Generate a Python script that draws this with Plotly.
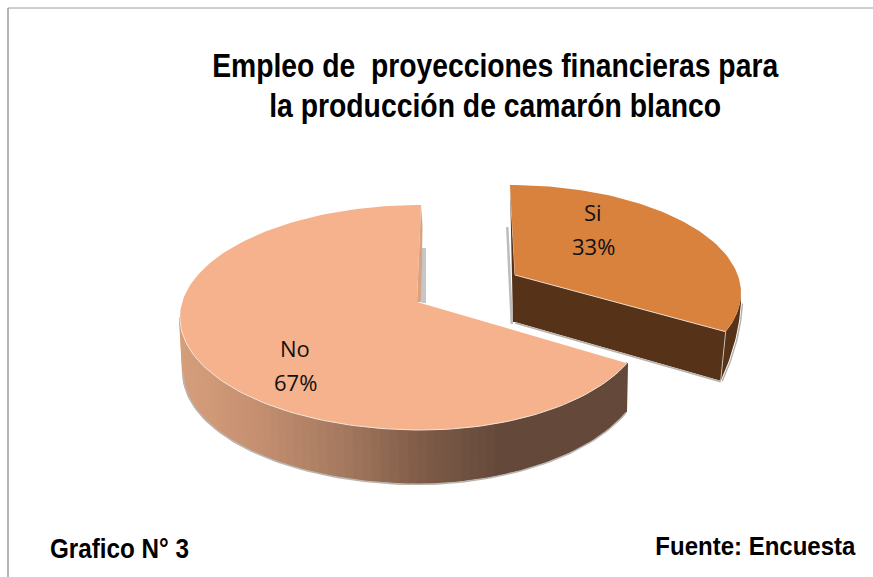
import json
import numpy as np
import plotly.graph_objects as go

# --- data ---
categories = ["Si", "No"]
values = [33, 67]
top_colors = ["#D8823E", "#F5B28C"]
title_lines = ["Empleo de  proyecciones financieras para", "la producción de camarón blanco"]
footer_left = "Grafico N° 3"
footer_right = "Fuente: Encuesta"

W, H = 873, 577
fig = go.Figure()


def poly(xs, ys, fill, line=None, width=0.0):
    fig.add_trace(go.Scatter(
        x=list(xs), y=list(ys), mode="lines", fill="toself", fillcolor=fill,
        line=dict(color=line or fill, width=width), hoverinfo="skip", showlegend=False))


def path(xs, ys, color, width):
    fig.add_trace(go.Scatter(
        x=list(xs), y=list(ys), mode="lines", line=dict(color=color, width=width),
        hoverinfo="skip", showlegend=False))


def warp(theta, k):
    # foreshortening of the 3D view
    return theta - k * np.sin(np.radians(theta))


def arc(phi, g):
    r = np.radians(phi)
    s, c = np.sin(r), np.cos(r)
    rx = np.where(s >= 0, g["rxr"], g["rxl"])
    return g["cx"] + rx * s, g["cy"] - g["ry"] * c


si_angle = 360 * values[0] / sum(values)

# geometry of the two projected slices
g_si = dict(cx=510, cy=293, rxr=231, rxl=231, ry=108, ax=515, ay=275, k=8.9, depth=47)
g_no = dict(cx=421, cy=317.5, rxr=225.5, rxl=241, ry=112.5, ax=417, ay=302, k=5.5)

# ---------- No slice ----------
phi_no_end = warp(si_angle, g_no["k"])
# gray shadow + back wall
poly([422, 426, 426, 421.5], [248, 248, 303, 303], "#C4C6C8")
poly([421, 417, 421.5, 422.5], [205, 302, 302, 225], "#D9A37F")


def no_depth(phi):
    return np.where(phi >= 180, 53, 53 - 5 * (180 - phi) / (180 - phi_no_end))


# side with gradient
stops_x = [180, 260, 340, 420, 500, 630]
stops_c = np.array([[214, 158, 124], [196, 143, 112], [165, 122, 96], [128, 92, 72], [100, 73, 58], [100, 73, 58]])
edges = np.linspace(270, phi_no_end, 71)
for a, b in zip(edges[:-1], edges[1:]):
    ph = np.linspace(a, b, 4)
    tx, ty = arc(ph, g_no)
    d = no_depth(ph)
    bx = tx + 3 - 4 * (270 - ph) / (270 - phi_no_end)
    by = ty + d
    mx = tx.mean()
    col = [int(round(np.interp(mx, stops_x, stops_c[:, i]))) for i in range(3)]
    c = f"rgb({col[0]},{col[1]},{col[2]})"
    poly(np.r_[tx, bx[::-1]], np.r_[ty, by[::-1]], c, c, 2)

# shadow under the side
ph = np.linspace(270, phi_no_end, 120)
tx, ty = arc(ph, g_no)
path(tx + 3 - 4 * (270 - ph) / (270 - phi_no_end), ty + no_depth(ph) + 1.5, "#B9B5B0", 1.6)

# top
ph = np.linspace(phi_no_end, 360, 160)
tx, ty = arc(ph, g_no)
poly(np.r_[g_no["ax"], tx, g_no["ax"]], np.r_[g_no["ay"], ty, g_no["ay"]], top_colors[1])
ph = np.linspace(phi_no_end, 270, 100)
tx, ty = arc(ph, g_no)
path(tx, ty, "#F6E6DA", 1)

# ---------- Si slice ----------
phi_si = warp(si_angle, g_si["k"])
sx, sy = arc(np.array([0.0]), g_si)
ex, ey = arc(np.array([phi_si]), g_si)
ax, ay, dp = g_si["ax"], g_si["ay"], g_si["depth"]
brown = "#563318"
# shadow, back wall
poly([506, 508.5, 513, 513, 510.5], [227, 227, 322, 324, 324], "#BDBDBD")
poly([sx[0], ax, ax, ax - 2], [sy[0], ay, ay + dp, ay + dp], brown)
path([sx[0], ax], [sy[0], ay], "#EADFD4", 0.8)
# cut wall
poly([ax, ex[0], ex[0] - 5, ax], [ay, ey[0], ey[0] + dp + 2, ay + dp], brown)
path([ax, ex[0] - 5], [ay + dp + 1, ey[0] + dp + 3], "#B5B1AC", 1.4)
# outer side
ph = np.linspace(90, phi_si, 30)
tx, ty = arc(ph, g_si)
t = (ph - 90) / (phi_si - 90)
bx = tx - 5 * t
by = ty + 10 + 39 * t
poly(np.r_[tx, bx[::-1]], np.r_[ty, by[::-1]], brown)
path(bx + 1.5, by + 0.5, "#B5B1AC", 1.4)
path([ex[0], ex[0] - 5], [ey[0], ey[0] + 49], "#D9D3CC", 0.8)
# top
ph = np.linspace(0, phi_si, 80)
tx, ty = arc(ph, g_si)
poly(np.r_[ax, tx, ax], np.r_[ay, ty, ay], top_colors[0])
path(np.r_[ax, ex[0]], np.r_[ay, ey[0]], "#EADFD4", 0.9)

# ---------- labels ----------
label_xy = {"Si": (593, 212, 246), "No": (295, 348, 382)}
total = sum(values)
for name, v in zip(categories, values):
    lx, ly1, ly2 = label_xy[name]
    for txt, ly in ((name, ly1), (f"{round(100 * v / total)}%", ly2)):
        fig.add_annotation(x=lx, y=ly, xref="x", yref="y", text=txt, showarrow=False,
                           font=dict(family="Open Sans", size=22, color="#111111"))

TF = "Liberation Sans"
bold_texts = [(title_lines[0], 495, 65, 33, 566), (title_lines[1], 495, 105, 33, 452),
              (footer_left, 119, 549, 27, 139), (footer_right, 755, 546, 26, 200)]
for txt, x, y, size, _ in bold_texts:
    fig.add_annotation(x=x, y=y, xref="x", yref="y", text=txt, showarrow=False,
                       font=dict(family=TF, size=size, color="#000000", weight=700))

# frame
fig.add_shape(type="line", xref="x", yref="y", x0=8, y0=8, x1=8, y1=577, line=dict(color="#9C9C9C", width=1.5))
fig.add_shape(type="line", xref="x", yref="y", x0=8, y0=8, x1=873, y1=8, line=dict(color="#9C9C9C", width=1))

fig.update_layout(
    width=W, height=H, margin=dict(l=0, r=0, t=0, b=0),
    paper_bgcolor="white", plot_bgcolor="white", showlegend=False,
    xaxis=dict(range=[0, W], visible=False, fixedrange=True),
    yaxis=dict(range=[H, 0], visible=False, fixedrange=True),
)

# page margin off; the bold texts are condensed horizontally to their measured widths
lengths = {t[0].replace("  ", " "): t[4] for t in bold_texts}
post = (
    "document.body.style.margin='0';document.documentElement.style.overflow='hidden';"
    "var L=" + json.dumps(lengths, ensure_ascii=False) + ";"
    "document.querySelectorAll('.annotation-text').forEach(function(e){"
    "var k=e.textContent.replace(/\\s+/g,' ');"
    "if(L[k]){e.setAttribute('textLength',L[k]);e.setAttribute('lengthAdjust','spacingAndGlyphs');}});"
)
fig.write_html("out.html", config=dict(displayModeBar=False), post_script=post)
